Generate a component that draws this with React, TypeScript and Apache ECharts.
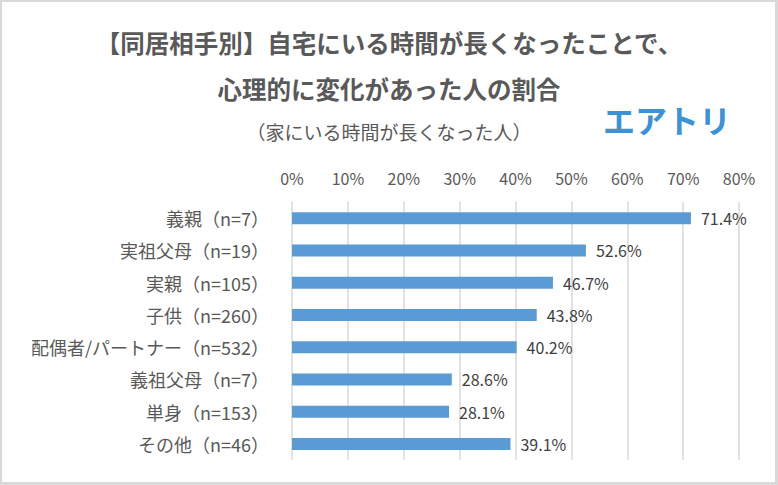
import React, { useEffect, useRef } from "react";
import * as echarts from "echarts";

const titleLine1 = "【同居相手別】自宅にいる時間が長くなったことで、";
const titleLine2 = "心理的に変化があった人の割合";
const subtitle = "（家にいる時間が長くなった人）";
const logoText = "エアトリ";

const categories = [
  "義親（n=7）",
  "実祖父母（n=19）",
  "実親（n=105）",
  "子供（n=260）",
  "配偶者/パートナー（n=532）",
  "義祖父母（n=7）",
  "単身（n=153）",
  "その他（n=46）",
];
const values = [71.4, 52.6, 46.7, 43.8, 40.2, 28.6, 28.1, 39.1];

const FONT = "'Noto Sans CJK JP', 'Noto Sans', sans-serif";

export default function App() {
  const ref = useRef<HTMLDivElement>(null);
  useEffect(() => {
    document.body.style.margin = "0";
    const chart = echarts.init(ref.current!, null, { renderer: "svg" });
    chart.setOption({
      animation: false,
      backgroundColor: "#d9d9d9",
      textStyle: { fontFamily: FONT },
      graphic: [
        {
          type: "rect",
          z: -10,
          silent: true,
          shape: { x: 2, y: 2, width: 773, height: 480 },
          style: { fill: "#ffffff" },
        },
        {
          type: "text",
          x: 389,
          y: 42,
          style: {
            text: titleLine1,
            fontSize: 24.5,
            fontWeight: "bold",
            fontFamily: FONT,
            fill: "#595959",
            align: "center",
            verticalAlign: "middle",
          },
        },
        {
          type: "text",
          x: 389,
          y: 88,
          style: {
            text: titleLine2,
            fontSize: 24.5,
            fontWeight: "bold",
            fontFamily: FONT,
            fill: "#595959",
            align: "center",
            verticalAlign: "middle",
          },
        },
        {
          type: "text",
          x: 389,
          y: 131,
          style: {
            text: subtitle,
            fontSize: 19,
            fontFamily: FONT,
            fill: "#595959",
            align: "center",
            verticalAlign: "middle",
          },
        },
        {
          type: "text",
          x: 603,
          y: 119,
          style: {
            text: logoText,
            fontSize: 32,
            fontWeight: "bold",
            fontFamily: FONT,
            fill: "#3d92d3",
            align: "left",
            verticalAlign: "middle",
          },
        },
      ],
      grid: { left: 292, right: 39, top: 202, bottom: 25, containLabel: false },
      xAxis: {
        type: "value",
        position: "top",
        min: 0,
        max: 80,
        interval: 10,
        axisLine: { show: false },
        axisTick: { show: false },
        axisLabel: {
          formatter: "{value}%",
          fontSize: 16,
          color: "#595959",
          margin: 16,
          fontFamily: FONT,
        },
        splitLine: { show: true, lineStyle: { color: "#d9d9d9", width: 1.5 } },
      },
      yAxis: {
        type: "category",
        inverse: true,
        data: categories,
        axisLine: { show: false },
        axisTick: { show: false },
        axisLabel: {
          fontSize: 18,
          color: "#595959",
          margin: 23,
          fontFamily: FONT,
        },
      },
      series: [
        {
          type: "bar",
          data: values,
          barWidth: 12,
          itemStyle: { color: "#5b9bd5" },
          label: {
            show: true,
            position: "right",
            distance: 10,
            fontSize: 16,
            color: "#404040",
            fontFamily: FONT,
            formatter: (p: any) => Number(p.value).toFixed(1) + "%",
          },
        },
      ],
    });
    return () => chart.dispose();
  }, []);
  return (
    <div
      ref={ref}
      style={{ position: "absolute", left: 0, top: 0, width: 778, height: 485 }}
    />
  );
}
